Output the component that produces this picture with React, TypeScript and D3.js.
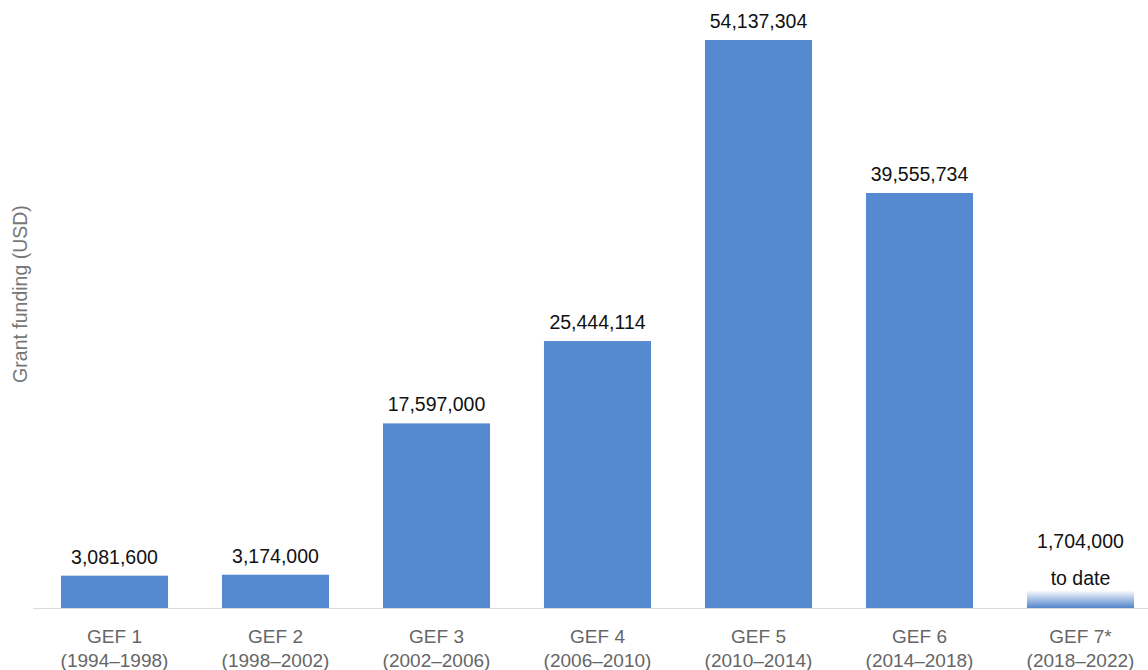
import React from "react";
import * as d3 from "d3";

const categories = ["GEF 1", "GEF 2", "GEF 3", "GEF 4", "GEF 5", "GEF 6", "GEF 7*"];
const periods = ["(1994–1998)", "(1998–2002)", "(2002–2006)", "(2006–2010)", "(2010–2014)", "(2014–2018)", "(2018–2022)"];
const values = [3081600, 3174000, 17597000, 25444114, 54137304, 39555734, 1704000];
const partial = [false, false, false, false, false, false, true];

const W = 1148;
const H = 670;
const baseY = 608;
const topY = 40;

export default function App() {
  const x = d3.scaleBand<string>().domain(categories).range([34, 1161]).paddingInner(0.335).paddingOuter(0.1675);
  const y = d3.scaleLinear().domain([0, d3.max(values) as number]).range([baseY, topY]);
  const fmt = d3.format(",");
  const font = "'Liberation Sans', Arial, Helvetica, sans-serif";
  return (
    <svg width={W} height={H} style={{ position: "absolute", left: 0, top: 0, background: "#fff" }} fontFamily={font}>
      <defs>
        <linearGradient id="partialGrad" x1="0" y1="0" x2="0" y2="1">
          <stop offset="0%" stopColor="#ffffff" />
          <stop offset="100%" stopColor="#5385cc" />
        </linearGradient>
      </defs>
      <line x1={33} x2={W} y1={baseY + 0.5} y2={baseY + 0.5} stroke="#dcdcdc" strokeWidth={1} />
      {categories.map((c, i) => {
        const bx = x(c) as number;
        const bw = x.bandwidth();
        const ty = y(values[i]);
        const cx = bx + bw / 2;
        return (
          <g key={c}>
            <rect x={bx} y={ty} width={bw} height={baseY - ty} fill={partial[i] ? "url(#partialGrad)" : "#5589d0"} />
            {partial[i] ? (
              <>
                <text x={cx} y={ty - 42} textAnchor="middle" fontSize={19.5} fill="#111">{fmt(values[i])}</text>
                <text x={cx} y={ty - 5} textAnchor="middle" fontSize={19.5} fill="#111">to date</text>
              </>
            ) : (
              <text x={cx} y={ty - 12} textAnchor="middle" fontSize={19.5} fill="#111">{fmt(values[i])}</text>
            )}
            <text x={cx} y={643} textAnchor="middle" fontSize={19} fill="#666">{c}</text>
            <text x={cx} y={667} textAnchor="middle" fontSize={19} fill="#666">{periods[i]}</text>
          </g>
        );
      })}
      <text transform={`translate(27,294) rotate(-90)`} textAnchor="middle" fontSize={19.5} fill="#777">Grant funding (USD)</text>
    </svg>
  );
}
